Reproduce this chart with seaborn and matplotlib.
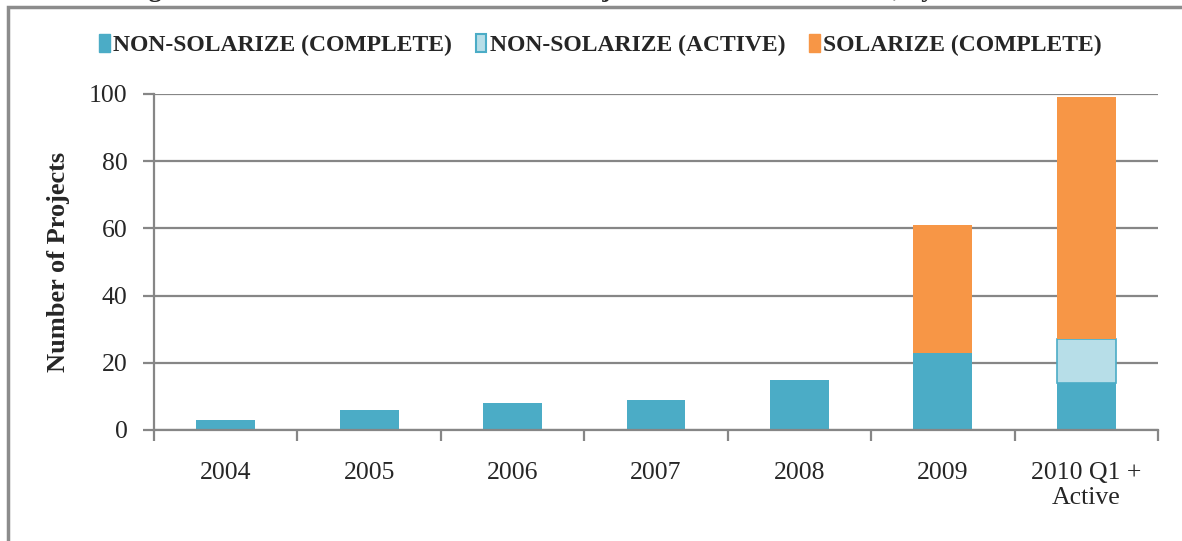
import pandas as pd
import numpy as np
import matplotlib.pyplot as plt
import seaborn as sns
from matplotlib.patches import Patch, Rectangle

years = ['2004', '2005', '2006', '2007', '2008', '2009', '2010 Q1 +\nActive']
non_sol_complete = [3, 6, 8, 9, 15, 23, 14]
non_sol_active = [0, 0, 0, 0, 0, 0, 13]
sol_complete = [0, 0, 0, 0, 0, 38, 72]
series = ['NON-SOLARIZE (COMPLETE)', 'NON-SOLARIZE (ACTIVE)', 'SOLARIZE (COMPLETE)']

df = pd.DataFrame({'year': years,
                   'nsc': non_sol_complete,
                   'nsa': non_sol_active,
                   'sc': sol_complete})

c_teal = '#4BACC6'
c_light = '#B7DEE8'
c_orange = '#F79646'
gray = '#868686'

sns.set_style('white')
plt.rcParams['font.family'] = ['Liberation Serif', 'DejaVu Serif']

fig = plt.figure(figsize=(11.82, 5.41), dpi=100)
ax = fig.add_axes([154/1182, 111/541, 1004/1182, 336/541])

w = 0.41
sns.barplot(data=df, x='year', y='nsc', color=c_teal, width=w, ax=ax,
            saturation=1, linewidth=0, order=years)
sns.barplot(data=df, x='year', y='nsa', color=c_light, width=w, ax=ax,
            saturation=1, bottom=df['nsc'], edgecolor=c_teal, linewidth=1.2, order=years)
sns.barplot(data=df, x='year', y='sc', color=c_orange, width=w, ax=ax,
            saturation=1, bottom=df['nsc'] + df['nsa'], linewidth=0, order=years)

# empty segments would still show a thin outline
for p in ax.patches:
    if p.get_height() == 0:
        p.set_visible(False)

ax.set_ylim(0, 100)
ax.set_xlim(-0.5, 6.5)
ax.set_yticks(np.arange(0, 101, 20))
ax.yaxis.grid(True, color=gray, linewidth=1.6)
ax.set_axisbelow(True)

# ticks sit between the categories, labels at the centres
ax.set_xticks(np.arange(-0.5, 7, 1))
ax.set_xticklabels([''] * 8)
ax.set_xticks(np.arange(7), minor=True)
ax.set_xticklabels(years, minor=True, fontsize=18.5, multialignment='center')
ax.tick_params(axis='x', which='major', length=8, width=1.6, color=gray, direction='out', bottom=True)
ax.tick_params(axis='x', which='minor', length=0, pad=23)
ax.tick_params(axis='y', length=8, width=1.6, color=gray, direction='out', left=True,
               labelsize=18.5, pad=11)

for s in ['top', 'right']:
    ax.spines[s].set_visible(False)
for s in ['left', 'bottom']:
    ax.spines[s].set_color(gray)
    ax.spines[s].set_linewidth(1.6)

ax.set_xlabel('')
ax.set_ylabel('Number of Projects', fontsize=19, fontweight='bold', labelpad=14)

handles = [Patch(facecolor=c_teal, edgecolor=c_teal),
           Patch(facecolor=c_light, edgecolor=c_teal, linewidth=1.5),
           Patch(facecolor=c_orange, edgecolor=c_orange)]
fig.legend(handles, series, loc='center', bbox_to_anchor=(0.508, 1 - 45/541), ncol=3,
           frameon=False, handlelength=0.45, handleheight=0.8, handletextpad=0.15,
           columnspacing=1.0, prop={'weight': 'bold', 'size': 17})

# outer frame of the chart object
fig.patches.append(Rectangle((8/1182, -0.1), 1.2, 1.1 - 7/541, transform=fig.transFigure,
                             fill=False, edgecolor='#8c8c8c', linewidth=2.5, zorder=0))

# page title above the frame, cut off by the crop
fig.text(125/1182, 1 + 3/541, 'Figure 6: Number of Residential Solar Projects Installed in Portland, by Year',
         fontsize=19, fontweight='bold', ha='left', va='baseline')

fig.savefig('out.png', dpi=100)
